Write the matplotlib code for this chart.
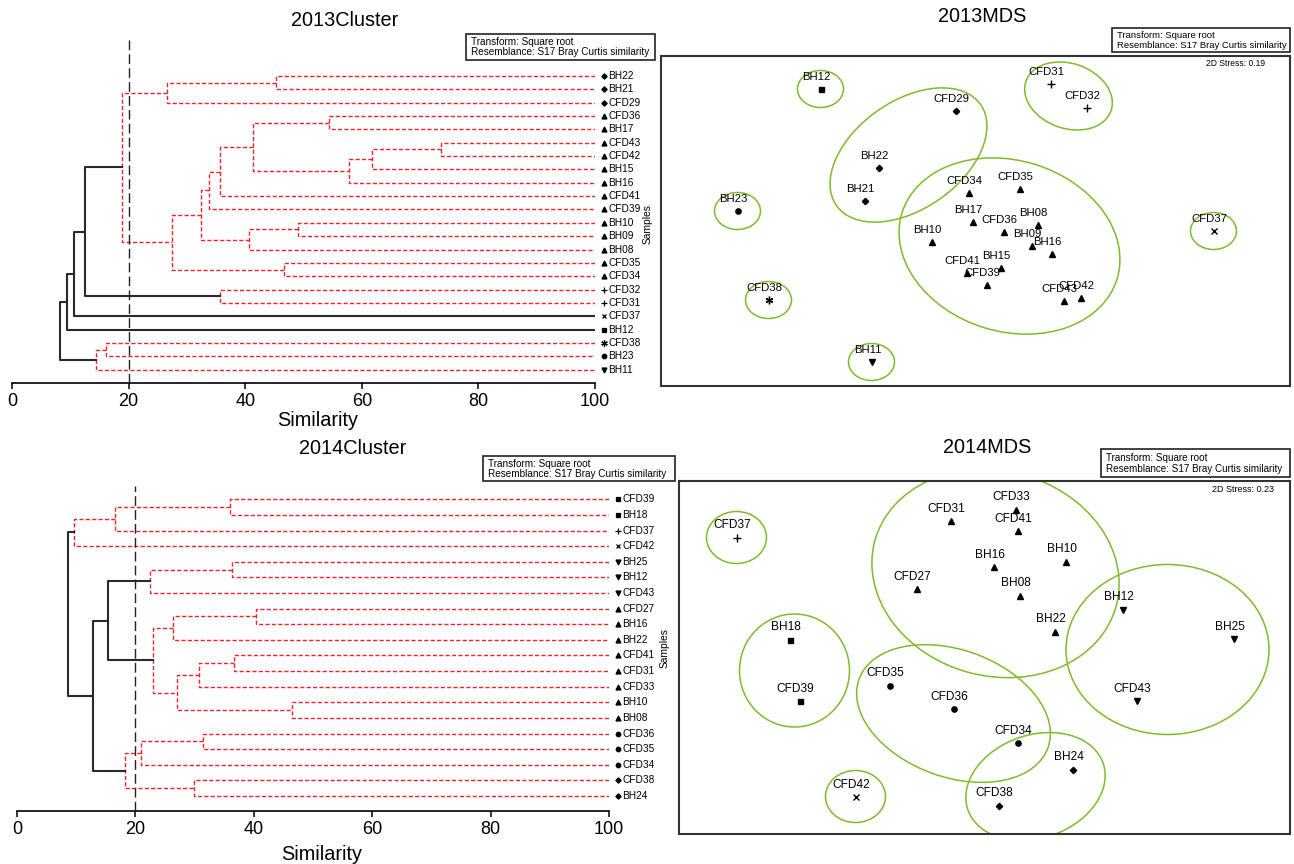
import matplotlib
matplotlib.use('Agg')
import matplotlib.pyplot as plt
from matplotlib.patches import Ellipse, Rectangle

plt.rcParams['font.family'] = ['Liberation Sans', 'DejaVu Sans']

W, H = 1294, 864

# ---------------- 2013 cluster ----------------
leaves_2013 = ['BH22', 'BH21', 'CFD29', 'CFD36', 'BH17', 'CFD43', 'CFD42', 'BH15', 'BH16',
               'CFD41', 'CFD39', 'BH10', 'BH09', 'BH08', 'CFD35', 'CFD34', 'CFD32', 'CFD31',
               'CFD37', 'BH12', 'CFD38', 'BH23', 'BH11']
group_2013 = ['diamond'] * 3 + ['up'] * 13 + ['plus'] * 2 + ['cross', 'square', 'star', 'circle', 'down']
# merges: children are leaf names or index of an earlier merge
merge_a_2013 = ['BH22', 0, 'CFD36', 'CFD43', 3, 4, 2, 6, 7, 'BH10', 9, 8, 'CFD35', 11, 1,
                'CFD32', 14, 16, 17, 'CFD38', 19, 18]
merge_b_2013 = ['BH21', 'CFD29', 'BH17', 'CFD42', 'BH15', 'BH16', 5, 'CFD41', 'CFD39', 'BH09',
                'BH08', 10, 'CFD34', 12, 13, 'CFD31', 15, 'CFD37', 'BH12', 'BH23', 'BH11', 20]
merge_sim_2013 = [45.3, 26.6, 54.4, 73.5, 61.7, 57.8, 41.4, 35.7, 33.8, 49.1, 40.7, 32.5,
                  46.6, 27.5, 18.8, 35.6, 12.6, 10.7, 9.4, 16.2, 14.4, 8.3]
merge_sig_2013 = [False] * 16 + [True, True, True, False, False, True]

# ---------------- 2014 cluster ----------------
leaves_2014 = ['CFD39', 'BH18', 'CFD37', 'CFD42', 'BH25', 'BH12', 'CFD43', 'CFD27', 'BH16',
               'BH22', 'CFD41', 'CFD31', 'CFD33', 'BH10', 'BH08', 'CFD36', 'CFD35', 'CFD34',
               'CFD38', 'BH24']
group_2014 = ['square'] * 2 + ['plus', 'cross'] + ['down'] * 3 + ['up'] * 8 + ['circle'] * 3 + ['diamond'] * 2
merge_a_2014 = ['CFD39', 0, 1, 'BH25', 3, 'CFD27', 5, 'CFD41', 7, 'BH10', 8, 6, 4, 'CFD36', 13,
                'CFD38', 14, 12, 2]
merge_b_2014 = ['BH18', 'CFD37', 'CFD42', 'BH12', 'CFD43', 'BH16', 'BH22', 'CFD31', 'CFD33',
                'BH08', 9, 10, 11, 'CFD35', 'CFD34', 'BH24', 15, 16, 17]
merge_sim_2014 = [36.0, 16.6, 9.7, 36.3, 22.5, 40.4, 26.4, 36.6, 30.7, 46.5, 27.0, 22.9, 15.3,
                  31.5, 20.9, 29.9, 18.2, 12.8, 8.6]
merge_sig_2014 = [False] * 12 + [True] + [False] * 4 + [True, True]

# ---------------- 2013 MDS ----------------
mds_names_2013 = ['BH12', 'CFD29', 'CFD31', 'CFD32', 'BH22', 'BH21', 'BH23', 'CFD34', 'CFD35',
                  'BH17', 'CFD36', 'BH08', 'BH09', 'BH16', 'BH10', 'BH15', 'CFD41', 'CFD39',
                  'CFD43', 'CFD42', 'CFD37', 'CFD38', 'BH11']
mds_x_2013 = [-1.55, -0.20, 0.75, 1.11, -0.97, -1.11, -2.38, -0.07, 0.44, -0.03, 0.28, 0.62,
              0.56, 0.76, -0.44, 0.25, -0.09, 0.11, 0.88, 1.05, 2.38, -2.07, -1.04]
mds_y_2013 = [1.32, 1.10, 1.37, 1.13, 0.53, 0.20, 0.10, 0.28, 0.32, -0.01, -0.11, -0.04,
              -0.25, -0.33, -0.21, -0.47, -0.52, -0.64, -0.80, -0.77, -0.10, -0.79, -1.41]
# similarity contours: centre x, centre y, width, height, angle
ell_x_2013 = [-0.67, 0.34, 0.93, -1.55, -2.38, -2.07, -1.04, 2.38]
ell_y_2013 = [0.66, -0.25, 1.25, 1.32, 0.10, -0.79, -1.41, -0.10]
ell_w_2013 = [1.76, 2.25, 0.90, 0.46, 0.46, 0.46, 0.46, 0.46]
ell_h_2013 = [1.08, 1.71, 0.65, 0.37, 0.37, 0.37, 0.37, 0.37]
ell_a_2013 = [35, -17, -19, 0, 0, 0, 0, 0]

# ---------------- 2014 MDS ----------------
mds_names_2014 = ['CFD37', 'CFD31', 'CFD33', 'CFD41', 'BH16', 'BH10', 'CFD27', 'BH08', 'BH22',
                  'BH12', 'BH25', 'CFD43', 'BH18', 'CFD39', 'CFD35', 'CFD36', 'CFD34', 'BH24',
                  'CFD38', 'CFD42']
mds_x_2014 = [-2.48, -0.34, 0.31, 0.33, 0.09, 0.81, -0.68, 0.35, 0.70, 1.38, 2.49, 1.52,
              -1.95, -1.85, -0.95, -0.31, 0.33, 0.88, 0.14, -1.29]
mds_y_2014 = [1.20, 1.37, 1.48, 1.27, 0.91, 0.96, 0.69, 0.62, 0.26, 0.48, 0.19, -0.43,
              0.18, -0.43, -0.28, -0.51, -0.85, -1.12, -1.48, -1.39]
ell_x_2014 = [-2.48, -1.29, -1.90, 0.11, -0.31, 0.51, 1.83]
ell_y_2014 = [1.20, -1.39, -0.13, 0.84, -0.56, -1.29, 0.08]
ell_w_2014 = [0.60, 0.60, 1.10, 2.50, 2.01, 1.43, 2.03]
ell_h_2014 = [0.52, 0.52, 1.13, 2.05, 1.27, 1.03, 1.70]
ell_a_2014 = [0, 0, 0, -15, -20, 19, 0]

MARKERS = {'diamond': ('D', 3.2), 'up': ('^', 4.2), 'down': ('v', 4.2), 'plus': ('+', 5.5),
           'cross': ('x', 4.2), 'square': ('s', 3.6), 'star': ((6, 2, 0), 5.5), 'circle': ('o', 3.8)}
RED = dict(color='#e8262a', lw=1.0, linestyle=(0, (3, 1.6)))
BLACK = dict(color='#2a2a2a', lw=1.5, linestyle='-')
GREEN = '#7fbb2a'


def add_axes_px(fig, left, top, right, bottom):
    return fig.add_axes([left / W, 1 - bottom / H, (right - left) / W, (bottom - top) / H])


def fig_text(fig, x, y, s, **kw):
    fig.text(x / W, 1 - y / H, s, **kw)


def info_box(fig, left, top, right, bottom, fs=7.2):
    fig.add_artist(Rectangle((left / W, 1 - bottom / H), (right - left) / W, (bottom - top) / H,
                             transform=fig.transFigure, facecolor='white', edgecolor='#222222', lw=1.2))
    h = bottom - top
    fig_text(fig, left + 5, top + 0.31 * h, 'Transform: Square root', fontsize=fs, va='center')
    fig_text(fig, left + 5, top + 0.71 * h, 'Resemblance: S17 Bray Curtis similarity',
             fontsize=fs, va='center')


def draw_dendrogram(ax, leaves, groups, ma, mb, sims, sig, ylim):
    ypos = {name: i for i, name in enumerate(leaves)}
    node_y, node_x = [], []

    def child(c):
        if isinstance(c, str):
            return ypos[c], 100.0
        return node_y[c], node_x[c]

    for a, b, s, g in zip(ma, mb, sims, sig):
        ya, xa = child(a)
        yb, xb = child(b)
        ax.plot([xa, s, s, xb], [ya, ya, yb, yb], **(BLACK if g else RED), zorder=3 if g else 2)
        node_y.append((ya + yb) / 2)
        node_x.append(s)

    for i, (name, grp) in enumerate(zip(leaves, groups)):
        m, ms = MARKERS[grp]
        ax.plot(101.5, i, marker=m, ms=ms * 0.85, color='black', mew=0.9, clip_on=False)
        ax.text(102.3, i, name, fontsize=7.3, va='center', ha='left', clip_on=False)

    ax.axvline(20, color='#222222', lw=1.0, linestyle=(0, (7, 3)), zorder=4)
    ax.set_xlim(0, 100)
    ax.set_ylim(*ylim)
    for side in ['top', 'left', 'right']:
        ax.spines[side].set_visible(False)
    ax.spines['bottom'].set_linewidth(1.2)
    ax.set_yticks([])
    ax.set_xticks([0, 20, 40, 60, 80, 100])
    ax.tick_params(axis='x', direction='out', length=4, width=1.1, labelsize=13, pad=3)
    ax.patch.set_alpha(0)


def draw_mds(ax, names, xs, ys, groups_of, ex, ey, ew, eh, ea, xlim, ylim, stress, stress_pos, fs):
    for cx, cy, w, h, a in zip(ex, ey, ew, eh, ea):
        ax.add_patch(Ellipse((cx, cy), w, h, angle=a, fill=False, edgecolor=GREEN, lw=1.1))
    for name, x, y in zip(names, xs, ys):
        m, ms = MARKERS[groups_of[name]]
        ax.plot(x, y, marker=m, ms=ms, color='black', mew=1.0)
        ax.annotate(name, (x, y), xytext=(-4, 12), textcoords='offset pixels',
                    ha='center', va='center', fontsize=fs)
    ax.set_xlim(*xlim)
    ax.set_ylim(*ylim)
    ax.set_xticks([])
    ax.set_yticks([])
    for sp in ax.spines.values():
        sp.set_linewidth(1.5)
        sp.set_color('#333333')
    ax.text(stress_pos[0], stress_pos[1], '2D Stress: ' + stress, transform=ax.transAxes,
            ha='right', va='center', fontsize=fs * 0.75)


fig = plt.figure(figsize=(W / 100, H / 100), dpi=100)

# top-left dendrogram
ax1 = add_axes_px(fig, 12, 37, 595, 383)
draw_dendrogram(ax1, leaves_2013, group_2013, merge_a_2013, merge_b_2013, merge_sim_2013,
                merge_sig_2013, (23.0, -2.92))
fig_text(fig, 345, 21, '2013Cluster', fontsize=14.3, ha='center', va='center')
fig_text(fig, 318, 420, 'Similarity', fontsize=14.3, ha='center', va='center')
fig_text(fig, 648, 224, 'Samples', fontsize=7.4, ha='center', va='center', rotation=90)
info_box(fig, 466, 34, 655, 60)

# bottom-left dendrogram
ax3 = add_axes_px(fig, 17, 486, 609, 811)
draw_dendrogram(ax3, leaves_2014, group_2014, merge_a_2014, merge_b_2014, merge_sim_2014,
                merge_sig_2014, (19.96, -0.85))
fig_text(fig, 353, 448, '2014Cluster', fontsize=14.3, ha='center', va='center')
fig_text(fig, 322, 855, 'Similarity', fontsize=14.3, ha='center', va='center')
fig_text(fig, 665, 648, 'Samples', fontsize=7.4, ha='center', va='center', rotation=90)
info_box(fig, 483, 456, 675, 481)

# top-right MDS
ax2 = add_axes_px(fig, 661, 56, 1290, 386)
draw_mds(ax2, mds_names_2013, mds_x_2013, mds_y_2013, dict(zip(leaves_2013, group_2013)),
         ell_x_2013, ell_y_2013, ell_w_2013, ell_h_2013, ell_a_2013,
         (-3.145, 3.145), (-1.65, 1.65), '0.19', (0.960, 0.978), 8.2)
fig_text(fig, 982, 16, '2013MDS', fontsize=14.3, ha='center', va='center')
info_box(fig, 1112, 28, 1290, 52, fs=6.8)

# bottom-right MDS
ax4 = add_axes_px(fig, 679, 481, 1290, 834)
draw_mds(ax4, mds_names_2014, mds_x_2014, mds_y_2014, dict(zip(leaves_2014, group_2014)),
         ell_x_2014, ell_y_2014, ell_w_2014, ell_h_2014, ell_a_2014,
         (-3.055, 3.055), (-1.765, 1.765), '0.23', (0.974, 0.975), 8.6)
fig_text(fig, 987, 447, '2014MDS', fontsize=14.3, ha='center', va='center')
info_box(fig, 1101, 449, 1290, 477, fs=7.1)

fig.savefig('out.png', dpi=100)
